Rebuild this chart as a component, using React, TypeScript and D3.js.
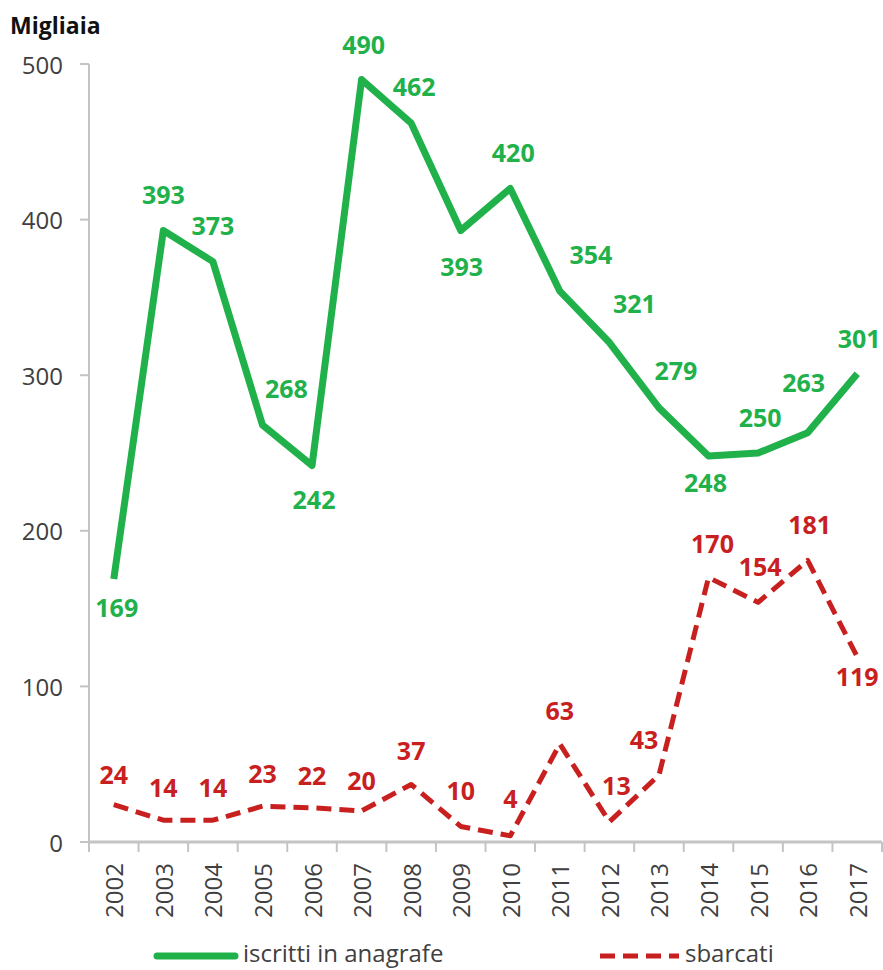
import * as d3 from 'd3';

const years = ['2002', '2003', '2004', '2005', '2006', '2007', '2008', '2009', '2010', '2011', '2012', '2013', '2014', '2015', '2016', '2017'];
const iscritti = [169, 393, 373, 268, 242, 490, 462, 393, 420, 354, 321, 279, 248, 250, 263, 301];
const sbarcati = [24, 14, 14, 23, 22, 20, 37, 10, 4, 63, 13, 43, 170, 154, 181, 119];
const yTicks = [0, 100, 200, 300, 400, 500];

// label offsets from each point (dx, dy)
const greenLabelOffsets = [
  [3, 28], [0, -36], [0, -37], [24, -37], [2, 34], [2, -36], [3, -37], [1, 36],
  [3, -36], [31, -37], [25, -40], [17, -38], [-3, 26], [2, -36], [-4, -51], [2, -36],
];
const redLabelOffsets = [
  [0, -31], [0, -33], [0, -33], [0, -33], [0, -33], [0, -31], [0, -34], [0, -36],
  [0, -38], [0, -34], [7, -37], [-15, -36], [4, -34], [2, -36], [2, -36], [0, 19],
];

const WIDTH = 883;
const HEIGHT = 970;
const GREEN = '#21b14b';
const RED = '#c8201f';
const AXIS = '#c4c4c4';
const TEXT = '#404040';
const FONT = '"Open Sans", sans-serif';

export default function App() {
  const x = d3.scaleBand().domain(years).range([89, 882]);
  const y = d3.scaleLinear().domain([0, 500]).range([842, 64]);
  const cx = (yr: string) => (x(yr) ?? 0) + x.bandwidth() / 2;

  const line = d3
    .line<number>()
    .x((_, i) => cx(years[i]))
    .y((d) => y(d));

  const boundaries = [...years.map((yr) => x(yr) ?? 0), x.range()[1]];

  return (
    <svg
      width={WIDTH}
      height={HEIGHT}
      style={{ position: 'absolute', left: 0, top: 0, background: '#fff' }}
      fontFamily={FONT}
    >
      <text x={10} y={25} fontSize={23} fontWeight={700} fill="#111" dominantBaseline="central">
        Migliaia
      </text>

      {/* y axis */}
      <line x1={89} x2={89} y1={y(500)} y2={y(0)} stroke={AXIS} strokeWidth={2} />
      {yTicks.map((t) => (
        <g key={t}>
          <line x1={80} x2={89} y1={y(t)} y2={y(t)} stroke={AXIS} strokeWidth={2} />
          <text x={63} y={y(t)} textAnchor="end" dominantBaseline="central" fontSize={24} fill={TEXT}>
            {t}
          </text>
        </g>
      ))}

      {/* x axis */}
      <line x1={89} x2={882} y1={y(0)} y2={y(0)} stroke={AXIS} strokeWidth={3} />
      {boundaries.map((b, i) => (
        <line key={i} x1={b} x2={b} y1={y(0)} y2={y(0) + 10} stroke={AXIS} strokeWidth={2} />
      ))}
      {years.map((yr) => (
        <text
          key={yr}
          transform={`translate(${cx(yr)},${863}) rotate(-90)`}
          textAnchor="end"
          dominantBaseline="central"
          fontSize={24}
          fill={TEXT}
        >
          {yr}
        </text>
      ))}

      {/* series */}
      <path d={line(iscritti) ?? ''} fill="none" stroke={GREEN} strokeWidth={7} strokeLinejoin="round" />
      <path
        d={line(sbarcati) ?? ''}
        fill="none"
        stroke={RED}
        strokeWidth={5}
        strokeDasharray="15 8"
        strokeLinejoin="round"
      />

      {iscritti.map((v, i) => (
        <text
          key={`g${i}`}
          x={cx(years[i]) + greenLabelOffsets[i][0]}
          y={y(v) + greenLabelOffsets[i][1]}
          textAnchor="middle"
          dominantBaseline="central"
          fontSize={25}
          fontWeight={700}
          fill={GREEN}
        >
          {v}
        </text>
      ))}
      {sbarcati.map((v, i) => (
        <text
          key={`r${i}`}
          x={cx(years[i]) + redLabelOffsets[i][0]}
          y={y(v) + redLabelOffsets[i][1]}
          textAnchor="middle"
          dominantBaseline="central"
          fontSize={25}
          fontWeight={700}
          fill={RED}
        >
          {v}
        </text>
      ))}

      {/* legend */}
      <line x1={157} x2={235} y1={956} y2={956} stroke={GREEN} strokeWidth={7} strokeLinecap="round" />
      <text x={243} y={952} dominantBaseline="central" fontSize={24} fill={TEXT}>
        iscritti in anagrafe
      </text>
      <line x1={600} x2={679} y1={956} y2={956} stroke={RED} strokeWidth={5} strokeDasharray="15 8" />
      <text x={685} y={952} dominantBaseline="central" fontSize={24} fill={TEXT}>
        sbarcati
      </text>
    </svg>
  );
}
